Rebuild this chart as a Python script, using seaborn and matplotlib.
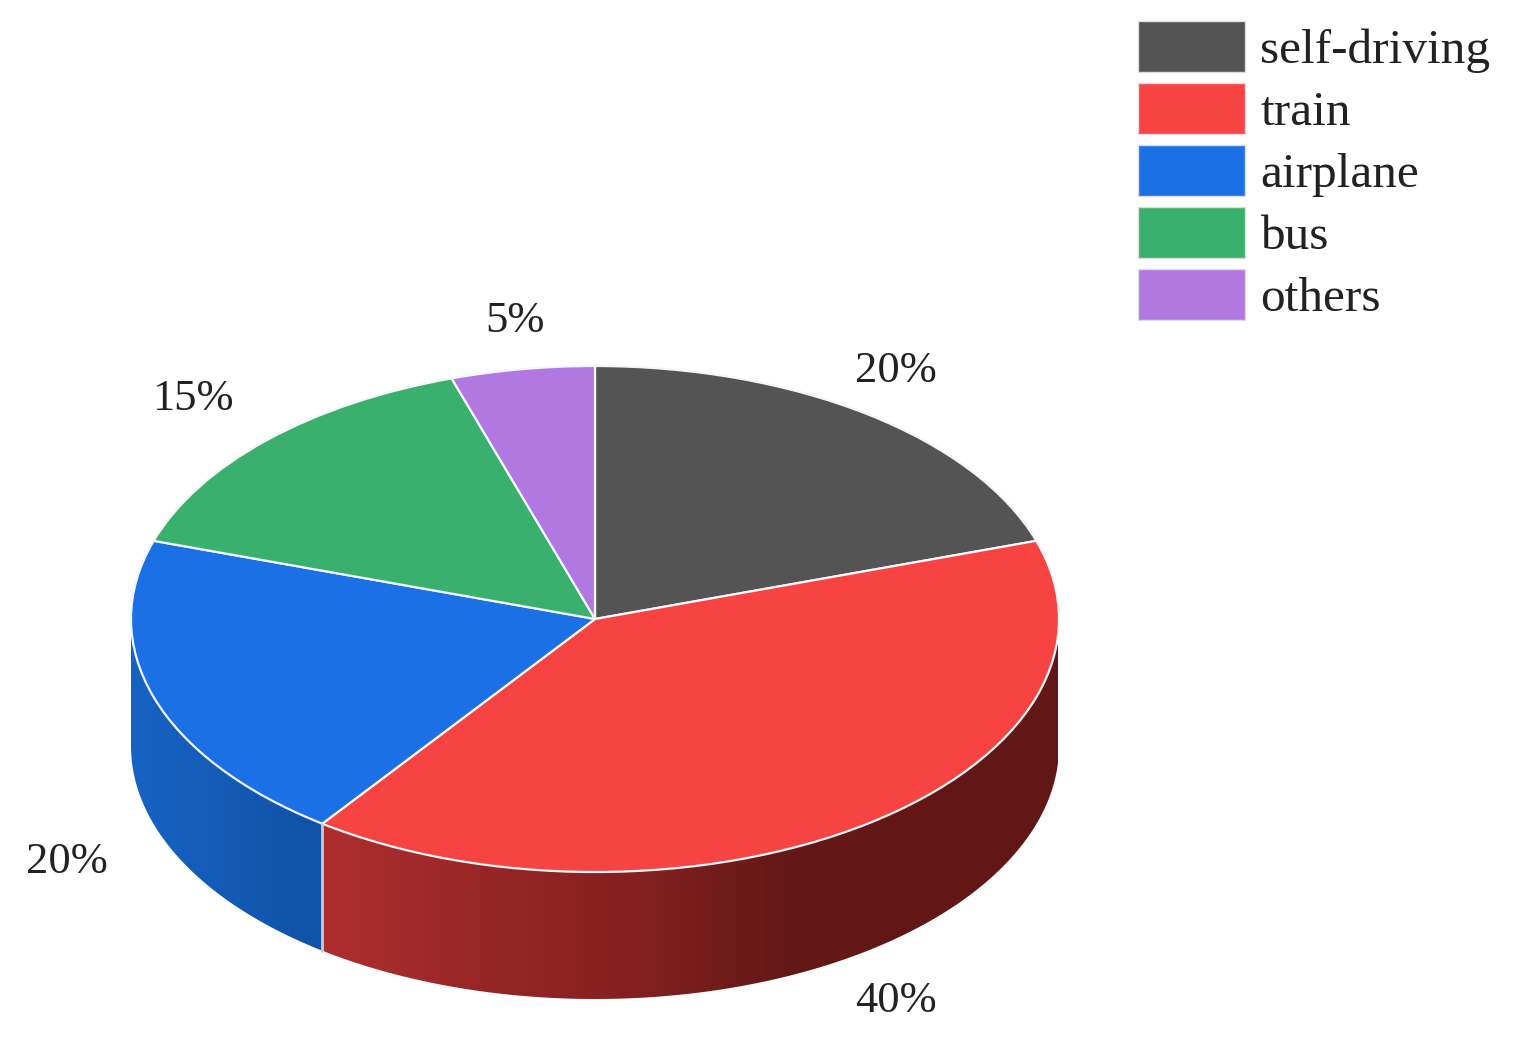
import matplotlib
matplotlib.use("Agg")
import matplotlib.pyplot as plt
import numpy as np
import seaborn as sns
from matplotlib.colors import LinearSegmentedColormap
from matplotlib.patches import Patch, Polygon

categories = ["self-driving", "train", "airplane", "bus", "others"]
shares = [20, 40, 20, 15, 5]
colors = ["#545454", "#f84343", "#1a70e4", "#39b06d", "#b278e2"]
pct_labels = ["20%", "40%", "20%", "15%", "5%"]

# shaded side of the visible slices, colour stops read left to right
side_stops = {
    "train": [(322, "#ae2e2e"), (500, "#962525"), (640, "#832020"), (780, "#641817"), (1058, "#611716")],
    "airplane": [(131, "#1763c4"), (322, "#0f52a6")],
}

# pie geometry in image pixels
W, H = 1520, 1045
CX, CY = 595, 619
RX, RY = 464, 253
DEPTH = 127

label_px = [(896, 371), (896, 1001), (67, 862), (193, 399), (515, 321)]

sns.set_theme(style="white")
plt.rcParams["font.family"] = ["Liberation Serif", "DejaVu Serif"]


def x_of(px):
    return (px - CX) / RX


def y_of(py):
    return (CY - py) / RY


fig = plt.figure(figsize=(W / 100, H / 100), dpi=100)
ax = fig.add_axes([0, 0, 1, 1])

ax.pie(
    shares,
    colors=colors,
    startangle=90,
    counterclock=False,
    radius=1,
    frame=True,
    wedgeprops={"edgecolor": "#f4f6f8", "linewidth": 1.6},
)
ax.set_aspect("auto")

# sides: only the part of each slice facing the viewer, 90..270 deg clockwise from top
edges = np.concatenate([[0], np.cumsum(shares)]) / sum(shares) * 360
d = DEPTH / RY
for i, cat in enumerate(categories):
    start, end = max(edges[i], 90), min(edges[i + 1], 270)
    if start >= end or cat not in side_stops:
        continue
    th = np.radians(np.linspace(start, end, 200))
    xs, ys = np.sin(th), np.cos(th)
    outline = np.vstack([np.c_[xs, ys], np.c_[xs[::-1], ys[::-1] - d]])

    stops = side_stops[cat]
    lo, hi = stops[0][0], stops[-1][0]
    cmap = LinearSegmentedColormap.from_list(
        cat, [((p - lo) / (hi - lo), c) for p, c in stops]
    )
    im = ax.imshow(
        np.linspace(0, 1, 256)[None, :],
        cmap=cmap,
        aspect="auto",
        extent=[x_of(lo), x_of(hi), -1 - d, 1],
        zorder=0,
    )
    im.set_clip_path(Polygon(outline, closed=True, transform=ax.transData))

# light seam where the two side faces meet
seam = np.radians(edges[2])
ax.plot([np.sin(seam)] * 2, [np.cos(seam), np.cos(seam) - d], color="#c9ccd6", lw=2, zorder=1)

ax.set_xlim(x_of(0), x_of(W))
ax.set_ylim(y_of(H), y_of(0))
ax.axis("off")

for txt, (px, py) in zip(pct_labels, label_px):
    ax.text(x_of(px), y_of(py), txt, fontsize=32, color="#222222", ha="center", va="center")

handles = [Patch(facecolor=c, edgecolor="#dddddd", linewidth=1) for c in colors]
ax.legend(
    handles,
    categories,
    loc="upper left",
    bbox_to_anchor=(1138 / W, 1 - 21 / H),
    bbox_transform=fig.transFigure,
    frameon=False,
    fontsize=35.5,
    borderpad=0,
    borderaxespad=0,
    handlelength=2.16,
    handleheight=1.22,
    handletextpad=0.32,
    labelspacing=0.2,
    labelcolor="#222222",
)

fig.savefig("out.png", dpi=100, facecolor="white")
